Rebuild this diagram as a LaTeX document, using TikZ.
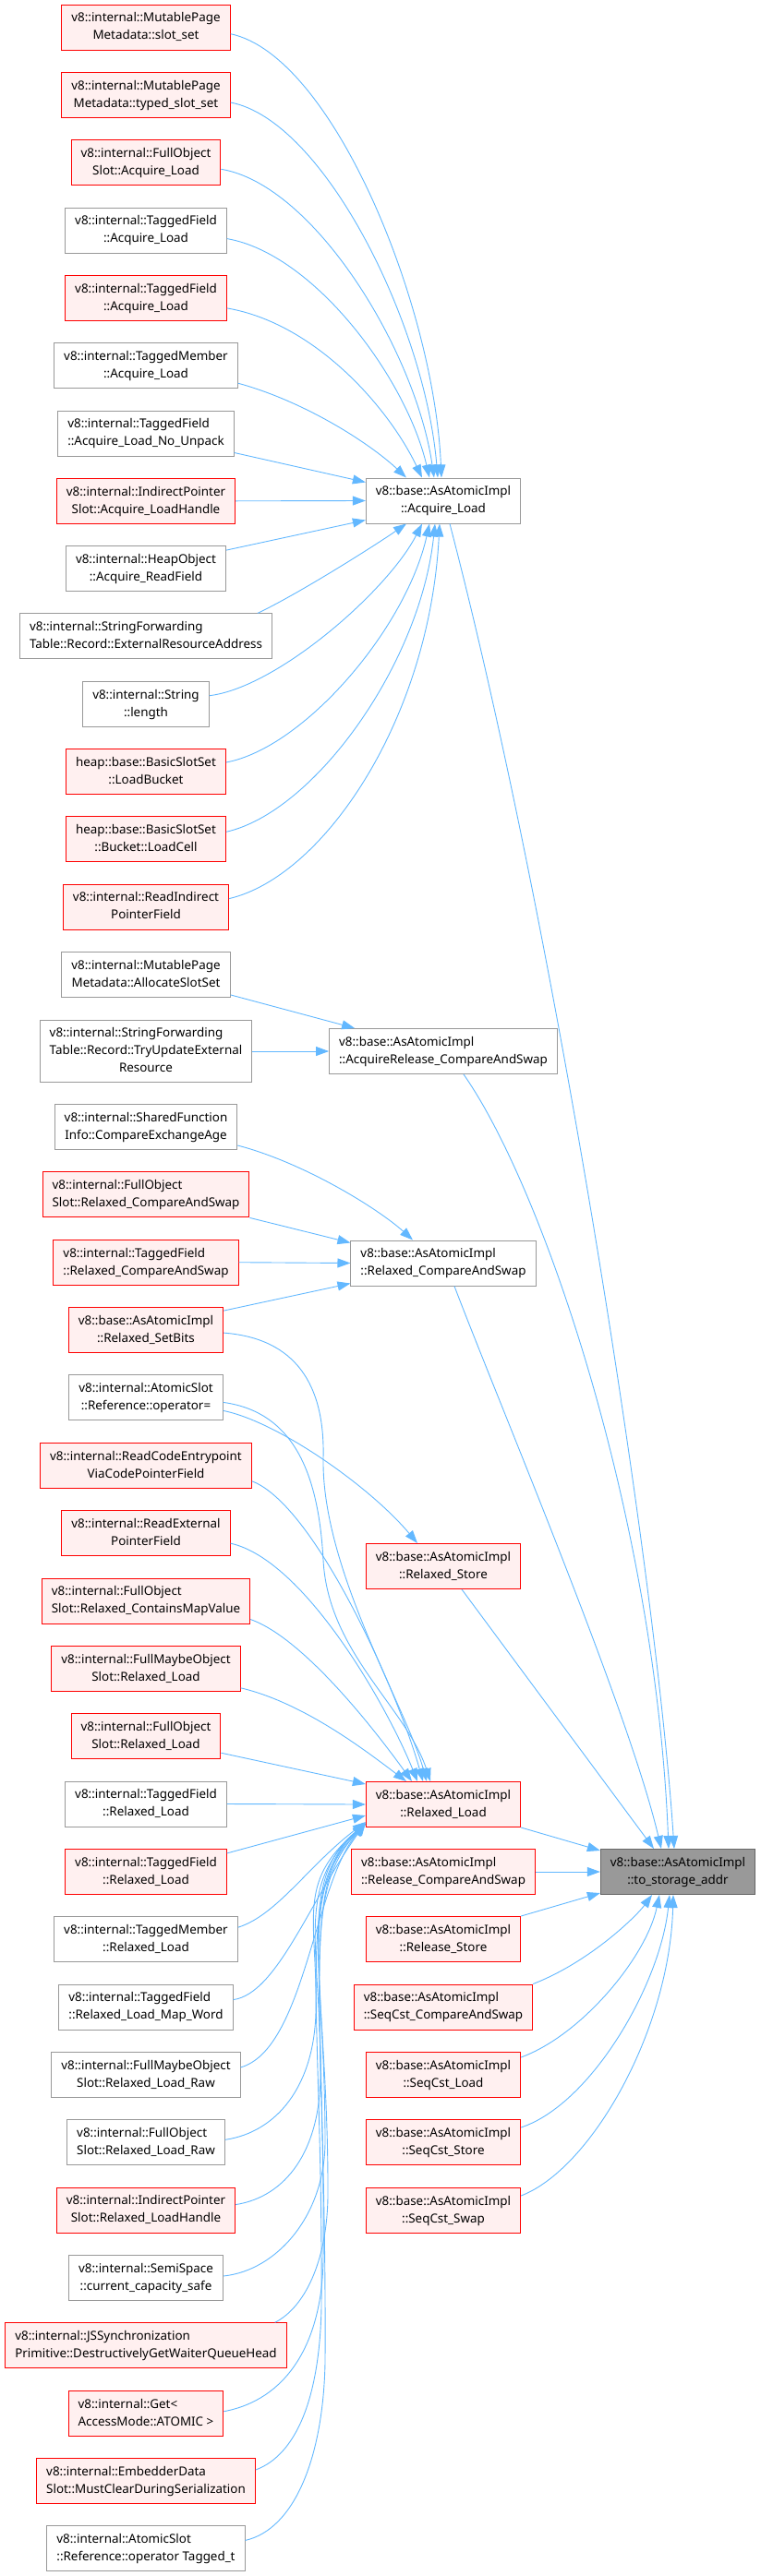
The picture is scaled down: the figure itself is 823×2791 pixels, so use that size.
\documentclass[tikz,border=0pt]{standalone}
\usepackage{fontspec}
\setmainfont{Noto Sans}
\usetikzlibrary{arrows.meta}
\definecolor{edgeblue}{HTML}{63B8FF}
\definecolor{redline}{HTML}{FF0000}
\definecolor{redfill}{HTML}{FFF0F0}
\definecolor{grayline}{HTML}{999999}
\definecolor{rootfill}{HTML}{999999}
\definecolor{rootline}{HTML}{666666}
\newcommand{\twolines}[2]{\begin{tabular}{@{}l@{}}#1\\\multicolumn{1}{@{}c@{}}{#2}\end{tabular}}
\newcommand{\threelines}[3]{\begin{tabular}{@{}l@{}}#1\\#2\\\multicolumn{1}{@{}c@{}}{#3}\end{tabular}}
\tikzset{
  fnbox/.style={draw, line width=1pt, inner xsep=10.5pt, inner ysep=0pt, minimum height=49pt, font=\fontsize{13.4}{19}\selectfont},
  redbox/.style={fnbox, draw=redline, fill=redfill},
  graybox/.style={fnbox, draw=grayline, fill=white},
  rootbox/.style={fnbox, draw=rootline, fill=rootfill},
  callarrow/.style={draw=edgeblue, line width=0.9pt, -{Triangle[length=14pt,width=10pt]}}
}

\begin{document}
\begin{tikzpicture}[x=1pt,y=-1pt]
\useasboundingbox (0,0) rectangle (823,2791);

\node[redbox] (slotset) at (158,29.7) {\twolines{v8::internal::MutablePage}{Metadata::slot\_set}};
\node[redbox] (typedslotset) at (158,103) {\twolines{v8::internal::MutablePage}{Metadata::typed\_slot\_set}};
\node[redbox] (fullacq) at (158,176.3) {\twolines{v8::internal::FullObject}{Slot::Acquire\_Load}};
\node[graybox] (tfacq) at (158,249.6) {\twolines{v8::internal::TaggedField}{::Acquire\_Load}};
\node[redbox] (tfacqb) at (158,322.9) {\twolines{v8::internal::TaggedField}{::Acquire\_Load}};
\node[graybox] (tmacq) at (158,396.2) {\twolines{v8::internal::TaggedMember}{::Acquire\_Load}};
\node[graybox] (tfnounpack) at (158,469.5) {\twolines{v8::internal::TaggedField}{::Acquire\_Load\_No\_Unpack}};
\node[redbox] (iptracq) at (158,542.8) {\twolines{v8::internal::IndirectPointer}{Slot::Acquire\_LoadHandle}};
\node[graybox] (heapread) at (158,616.1) {\twolines{v8::internal::HeapObject}{::Acquire\_ReadField}};
\node[graybox] (sfext) at (158,689.4) {\twolines{v8::internal::StringForwarding}{Table::Record::ExternalResourceAddress}};
\node[graybox] (strlen) at (158,762.7) {\twolines{v8::internal::String}{::length}};
\node[redbox] (loadbucket) at (158,836) {\twolines{heap::base::BasicSlotSet}{::LoadBucket}};
\node[redbox] (loadcell) at (158,909.3) {\twolines{heap::base::BasicSlotSet}{::Bucket::LoadCell}};
\node[redbox] (readiptr) at (158,982.6) {\twolines{v8::internal::ReadIndirect}{PointerField}};
\node[graybox] (allocslot) at (158,1055.9) {\twolines{v8::internal::MutablePage}{Metadata::AllocateSlotSet}};
\node[graybox, minimum height=67pt] (sftryupd) at (158,1139) {\threelines{v8::internal::StringForwarding}{Table::Record::TryUpdateExternal}{Resource}};
\node[graybox] (sfiage) at (158,1221) {\twolines{v8::internal::SharedFunction}{Info::CompareExchangeAge}};
\node[redbox] (fullrcas) at (158,1294.4) {\twolines{v8::internal::FullObject}{Slot::Relaxed\_CompareAndSwap}};
\node[redbox] (tfrcas) at (158,1367.7) {\twolines{v8::internal::TaggedField}{::Relaxed\_CompareAndSwap}};
\node[redbox] (setbits) at (158,1441.1) {\twolines{v8::base::AsAtomicImpl}{::Relaxed\_SetBits}};
\node[graybox] (atomref) at (158,1514.4) {\twolines{v8::internal::AtomicSlot}{::Reference::operator=}};
\node[redbox] (readcep) at (158,1587.8) {\twolines{v8::internal::ReadCodeEntrypoint}{ViaCodePointerField}};
\node[redbox] (readext) at (158,1661.1) {\twolines{v8::internal::ReadExternal}{PointerField}};
\node[redbox] (fullmapval) at (158,1734.5) {\twolines{v8::internal::FullObject}{Slot::Relaxed\_ContainsMapValue}};
\node[redbox] (fmorl) at (158,1807.8) {\twolines{v8::internal::FullMaybeObject}{Slot::Relaxed\_Load}};
\node[redbox] (forl) at (158,1881.2) {\twolines{v8::internal::FullObject}{Slot::Relaxed\_Load}};
\node[graybox] (tfrl) at (158,1954.5) {\twolines{v8::internal::TaggedField}{::Relaxed\_Load}};
\node[redbox] (tfrlb) at (158,2027.9) {\twolines{v8::internal::TaggedField}{::Relaxed\_Load}};
\node[graybox] (tmrl) at (158,2101.2) {\twolines{v8::internal::TaggedMember}{::Relaxed\_Load}};
\node[graybox] (tfmapword) at (158,2174.6) {\twolines{v8::internal::TaggedField}{::Relaxed\_Load\_Map\_Word}};
\node[graybox] (fmorlraw) at (158,2247.9) {\twolines{v8::internal::FullMaybeObject}{Slot::Relaxed\_Load\_Raw}};
\node[graybox] (forlraw) at (158,2321.3) {\twolines{v8::internal::FullObject}{Slot::Relaxed\_Load\_Raw}};
\node[redbox] (iptrrl) at (158,2394.6) {\twolines{v8::internal::IndirectPointer}{Slot::Relaxed\_LoadHandle}};
\node[graybox] (semispace) at (158,2468) {\twolines{v8::internal::SemiSpace}{::current\_capacity\_safe}};
\node[redbox] (jssync) at (158,2541.3) {\twolines{v8::internal::JSSynchronization}{Primitive::DestructivelyGetWaiterQueueHead}};
\node[redbox] (getatomic) at (158,2614.7) {\twolines{v8::internal::Get<}{AccessMode::ATOMIC >}};
\node[redbox] (embedder) at (158,2688) {\twolines{v8::internal::EmbedderData}{Slot::MustClearDuringSerialization}};
\node[graybox] (atomtagged) at (158,2761.4) {\twolines{v8::internal::AtomicSlot}{::Reference::operator Tagged\_t}};

\node[graybox] (acqload) at (480,542.5) {\twolines{v8::base::AsAtomicImpl}{::Acquire\_Load}};
\node[graybox] (acqrelcas) at (480,1139) {\twolines{v8::base::AsAtomicImpl}{::AcquireRelease\_CompareAndSwap}};
\node[graybox] (rlxcas) at (480,1368.5) {\twolines{v8::base::AsAtomicImpl}{::Relaxed\_CompareAndSwap}};
\node[redbox] (rlxstore) at (480,1697) {\twolines{v8::base::AsAtomicImpl}{::Relaxed\_Store}};
\node[redbox] (rlxload) at (480,1955) {\twolines{v8::base::AsAtomicImpl}{::Relaxed\_Load}};
\node[redbox] (relcas) at (480,2028) {\twolines{v8::base::AsAtomicImpl}{::Release\_CompareAndSwap}};
\node[redbox] (relstore) at (480,2101) {\twolines{v8::base::AsAtomicImpl}{::Release\_Store}};
\node[redbox] (seqcas) at (480,2174.5) {\twolines{v8::base::AsAtomicImpl}{::SeqCst\_CompareAndSwap}};
\node[redbox] (seqload) at (480,2248) {\twolines{v8::base::AsAtomicImpl}{::SeqCst\_Load}};
\node[redbox] (seqstore) at (480,2321) {\twolines{v8::base::AsAtomicImpl}{::SeqCst\_Store}};
\node[redbox] (seqswap) at (480,2395) {\twolines{v8::base::AsAtomicImpl}{::SeqCst\_Swap}};
\node[rootbox] (tostorage) at (734,2028) {\twolines{v8::base::AsAtomicImpl}{::to\_storage\_addr}};

\draw[callarrow] ([yshift=-7pt]slotset.east) .. controls (360,60) and (470,330) .. ([xshift=-2pt]acqload.north);
\draw[callarrow] ([yshift=-8pt]typedslotset.east) .. controls (350,130) and (460,350) .. ([xshift=-6pt]acqload.north);
\draw[callarrow] ([yshift=-7pt]fullacq.east) .. controls (340,200) and (450,380) .. ([xshift=-10pt]acqload.north);
\draw[callarrow] ([yshift=-9pt]tfacq.east) .. controls (340,275) and (440,410) .. ([xshift=-15pt]acqload.north);
\draw[callarrow] ([yshift=-11pt]tfacqb.east) .. controls (340,350) and (420,440) .. ([xshift=-23pt]acqload.north);
\draw[callarrow] ([yshift=-19pt]tmacq.east) .. controls (330,435) and (400,480) .. ([xshift=-40pt]acqload.north);
\draw[callarrow] ([yshift=-21pt]tfnounpack.east) -- ([yshift=20pt]acqload.west);
\draw[callarrow] (iptracq.east) -- (acqload.west);
\draw[callarrow] ([yshift=20pt]heapread.east) -- ([yshift=-21pt]acqload.west);
\draw[callarrow] ([xshift=-16pt]sfext.north east) .. controls (320,645) and (400,595) .. ([xshift=-40pt]acqload.south);
\draw[callarrow] ([yshift=9pt]strlen.east) .. controls (300,745) and (420,640) .. ([xshift=-23pt]acqload.south);
\draw[callarrow] ([yshift=10pt]loadbucket.east) .. controls (330,810) and (440,680) .. ([xshift=-15pt]acqload.south);
\draw[callarrow] ([yshift=8pt]loadcell.east) .. controls (340,880) and (455,720) .. ([xshift=-9pt]acqload.south);
\draw[callarrow] ([yshift=9pt]readiptr.east) .. controls (350,950) and (465,780) .. ([xshift=-4pt]acqload.south);

\draw[callarrow] ([yshift=-22pt]allocslot.east) -- ([xshift=28pt]acqrelcas.north west);
\draw[callarrow] (sftryupd.east) -- (acqrelcas.west);

\draw[callarrow] ([yshift=-20pt]sfiage.east) .. controls (330,1260) and (410,1310) .. ([xshift=-33pt]rlxcas.north);
\draw[callarrow] (fullrcas.south east) -- ([yshift=-3pt]rlxcas.north west);
\draw[callarrow] (tfrcas.east) -- (rlxcas.west);
\draw[callarrow] ([yshift=21pt]setbits.east) -- ([yshift=3pt]rlxcas.south west);

\draw[callarrow] ([yshift=-14pt]atomref.east) .. controls (300,1540) and (400,1610) .. ([xshift=-28pt]rlxstore.north);

\draw[callarrow] ([yshift=-3pt]setbits.east) .. controls (320,1450) and (352,1500) .. (350,1580) .. controls (348,1700) and (440,1850) .. ([xshift=-18pt]rlxload.north);
\draw[callarrow] ([yshift=-5pt]atomref.east) .. controls (320,1530) and (345,1600) .. (350,1690) .. controls (355,1790) and (440,1850) .. ([xshift=-14pt]rlxload.north);
\draw[callarrow] ([yshift=-17pt]readcep.east) .. controls (340,1630) and (430,1830) .. ([xshift=-22pt]rlxload.north);
\draw[callarrow] ([yshift=-11pt]readext.east) .. controls (330,1690) and (420,1850) .. ([xshift=-28pt]rlxload.north);
\draw[callarrow] ([yshift=-20pt]fullmapval.east) .. controls (330,1775) and (410,1880) .. ([xshift=-34pt]rlxload.north);
\draw[callarrow] ([yshift=-21pt]fmorl.east) .. controls (330,1845) and (400,1900) .. ([xshift=-40pt]rlxload.north);
\draw[callarrow] ([yshift=-18pt]forl.east) -- ([yshift=-3pt]rlxload.north west);
\draw[callarrow] (tfrl.east) -- (rlxload.west);
\draw[callarrow] ([yshift=20pt]tfrlb.east) -- ([yshift=-12pt]rlxload.west);
\draw[callarrow] ([yshift=13pt]tmrl.east) .. controls (300,2075) and (335,2020) .. ([yshift=6pt]rlxload.south west);
\draw[callarrow] ([yshift=8pt]tfmapword.east) .. controls (300,2160) and (335,2060) .. ([yshift=5pt]rlxload.south west);
\draw[callarrow] ([yshift=8pt]fmorlraw.east) .. controls (330,2220) and (340,2040) .. ([yshift=4pt]rlxload.south west);
\draw[callarrow] ([yshift=3pt]forlraw.east) .. controls (300,2310) and (340,2260) .. (342,2180) .. controls (344,2080) and (320,2040) .. ([yshift=4pt]rlxload.south west);
\draw[callarrow] ([yshift=6pt]iptrrl.east) .. controls (310,2380) and (346,2330) .. (347,2250) .. controls (348,2110) and (318,2045) .. ([yshift=4pt]rlxload.south west);
\draw[callarrow] ([yshift=2pt]semispace.east) .. controls (300,2460) and (352,2400) .. (352,2320) .. controls (352,2130) and (322,2050) .. ([yshift=4pt]rlxload.south west);
\draw[callarrow] ([xshift=-13pt]jssync.north east) .. controls (330,2500) and (354,2450) .. (355,2380) .. controls (356,2150) and (316,2040) .. ([yshift=4pt]rlxload.south west);
\draw[callarrow] ([yshift=2pt]getatomic.east) .. controls (310,2600) and (348,2540) .. (350,2450) .. controls (352,2150) and (325,2050) .. ([yshift=4pt]rlxload.south west);
\draw[callarrow] ([yshift=12pt]embedder.east) .. controls (320,2660) and (346,2600) .. (348,2500) .. controls (350,2160) and (318,2045) .. ([yshift=4pt]rlxload.south west);
\draw[callarrow] ([yshift=9pt]atomtagged.east) .. controls (320,2740) and (350,2660) .. (352,2560) .. controls (354,2180) and (322,2040) .. ([yshift=4pt]rlxload.south west);

\draw[callarrow] ([xshift=7pt]acqload.south) .. controls (600,1000) and (710,1700) .. ([xshift=-4pt]tostorage.north);
\draw[callarrow] ([xshift=22pt]acqrelcas.south) .. controls (590,1290) and (710,1650) .. ([xshift=-10pt]tostorage.north);
\draw[callarrow] ([xshift=12pt]rlxcas.south) .. controls (540,1520) and (680,1850) .. ([xshift=-18pt]tostorage.north);
\draw[callarrow] ([xshift=20pt]rlxstore.south) -- ([xshift=-26pt]tostorage.north);
\draw[callarrow] (rlxload.south east) -- ([yshift=-2pt]tostorage.north west);
\draw[callarrow] (relcas.east) -- (tostorage.west);
\draw[callarrow] (relstore.north east) -- ([yshift=2pt]tostorage.south west);
\draw[callarrow] (seqcas.north east) .. controls (640,2125) and (690,2075) .. ([xshift=-28pt]tostorage.south);
\draw[callarrow] ([yshift=19pt]seqload.east) .. controls (630,2205) and (700,2120) .. ([xshift=-20pt]tostorage.south);
\draw[callarrow] ([yshift=16pt]seqstore.east) .. controls (640,2280) and (715,2150) .. ([xshift=-9pt]tostorage.south);
\draw[callarrow] ([yshift=16pt]seqswap.east) .. controls (640,2350) and (725,2200) .. ([xshift=-5pt]tostorage.south);
\end{tikzpicture}
\end{document}
